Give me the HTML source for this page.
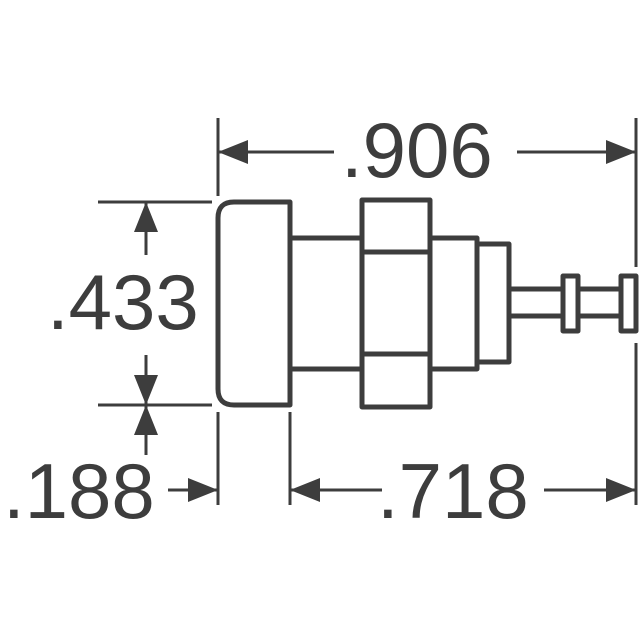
<!DOCTYPE html>
<html><head><style>
html,body{margin:0;padding:0;background:#fff;}
svg{display:block;}
text{font-family:"Liberation Sans",sans-serif;font-size:78px;fill:#3d3d3d;}
</style></head><body>
<svg width="640" height="640" viewBox="0 0 640 640">
<g fill="none" stroke="#3d3d3d" stroke-width="5" stroke-linejoin="round">
<path d="M290 202 H234 Q218 202 218 218 V389 Q218 405 234 405 H290 Z"/>
<rect x="290" y="238" width="72" height="131"/>
<rect x="362" y="200" width="68" height="207"/>
<line x1="362" y1="252" x2="430" y2="252"/>
<line x1="362" y1="354" x2="430" y2="354"/>
<rect x="430" y="238" width="47" height="131"/>
<rect x="477" y="244" width="32" height="118"/>
<rect x="509" y="289" width="112" height="27"/>
<rect x="563" y="276" width="15" height="55" fill="#fff"/>
<rect x="621" y="276" width="15" height="55" fill="#fff"/>
</g>
<g stroke="#3d3d3d" stroke-width="3" fill="none">
<line x1="218" y1="118" x2="218" y2="196"/>
<line x1="218" y1="412" x2="218" y2="505"/>
<line x1="290" y1="412" x2="290" y2="505"/>
<line x1="636" y1="118" x2="636" y2="267"/>
<line x1="636" y1="343" x2="636" y2="505"/>
<line x1="98" y1="202" x2="212" y2="202"/>
<line x1="98" y1="405" x2="212" y2="405"/>
<line x1="218" y1="152" x2="334" y2="152"/>
<line x1="517" y1="152" x2="636" y2="152"/>
<line x1="146" y1="202" x2="146" y2="255"/>
<line x1="146" y1="355" x2="146" y2="405"/>
<line x1="146" y1="405" x2="146" y2="455"/>
<line x1="168" y1="490" x2="218" y2="490"/>
<line x1="290" y1="490" x2="382" y2="490"/>
<line x1="544" y1="490" x2="636" y2="490"/>
</g>
<g fill="#3d3d3d">
<polygon points="218,152 248,140 248,164"/>
<polygon points="636,152 606,140 606,164"/>
<polygon points="146,202 134,232 158,232"/>
<polygon points="146,405 134,375 158,375"/>
<polygon points="146,405 134,435 158,435"/>
<polygon points="218,490 188,478 188,502"/>
<polygon points="290,490 320,478 320,502"/>
<polygon points="636,490 606,478 606,502"/>
</g>
<text x="341" y="177">.906</text>
<text x="47" y="329">.433</text>
<text x="3" y="518">.188</text>
<text x="377" y="518">.718</text>
</svg>
</body></html>
